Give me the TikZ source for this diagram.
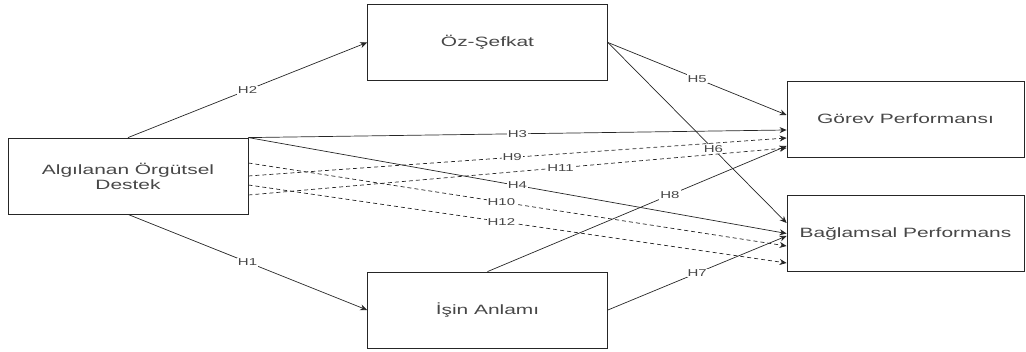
\documentclass[tikz,border=0pt]{standalone}
\usepackage{fontspec}
\setmainfont{Liberation Sans}
\usepackage{graphicx}
\usetikzlibrary{arrows.meta}

% the reference is stretched sideways, so the text is too
\newcommand{\wtext}[1]{\scalebox{1.55}[1]{#1}}
\newcommand{\wlab}[1]{\scalebox{1.5}[1]{#1}}

\tikzset{
  block/.style={draw=black!85, line width=0.8pt, minimum width=240pt, minimum height=76pt,
    inner sep=0pt, align=center, text=black!72, font=\fontsize{13.5}{15}\selectfont},
  link/.style={draw=black!85, line width=0.7pt, -{Stealth[length=7pt,width=6pt]}},
  dlink/.style={link, dash pattern=on 4pt off 3pt},
  hlab/.style={fill=white, inner sep=1pt, text=black!72, font=\fontsize{10}{12}\selectfont},
}

\begin{document}
\begin{tikzpicture}[x=1pt,y=1pt]
    \useasboundingbox (0,0) rectangle (1026,352);
    % boxes
    \node[block] (destek) at (128,176) {\wtext{Algılanan Örgütsel}\\\wtext{Destek}};
    \node[block] (oz) at (487.5,309.5) {\wtext{Öz-Şefkat}};
    \node[block] (anlam) at (487.5,42) {\wtext{İşin Anlamı}};
    \node[block, minimum width=237pt] (gorev) at (905.5,233) {\wtext{Görev Performansı}};
    \node[block, minimum width=237pt] (baglam) at (905.5,118.5) {\wtext{Bağlamsal Performans}};
    % direct paths
    \draw[link] (destek.north) -- (oz.west) node[hlab, midway] {\wlab{H2}};
    \draw[link] (destek.south) -- (anlam.west) node[hlab, midway] {\wlab{H1}};
    \draw[link] (destek.north east) -- ([yshift=-11pt]gorev.west) node[hlab, midway] {\wlab{H3}};
    \draw[link] (destek.north east) -- (baglam.west) node[hlab, midway] {\wlab{H4}};
    \draw[link] (oz.east) -- ([yshift=4pt]gorev.west) node[hlab, midway] {\wlab{H5}};
    \draw[link] (oz.east) -- ([yshift=10.5pt]baglam.west) node[hlab, pos=0.59] {\wlab{H6}};
    \draw[link] (anlam.east) -- ([yshift=-2.5pt]baglam.west) node[hlab, midway] {\wlab{H7}};
    \draw[link] (anlam.north) -- ([yshift=-27pt]gorev.west) node[hlab, pos=0.61] {\wlab{H8}};
    % mediated paths
    \draw[dlink] (destek.east) -- ([yshift=-19pt]gorev.west) node[hlab, pos=0.49] {\wlab{H9}};
    \draw[dlink] ([yshift=13pt]destek.east) -- ([yshift=-12.5pt]baglam.west) node[hlab, pos=0.47] {\wlab{H10}};
    \draw[dlink] ([yshift=-19pt]destek.east) -- ([yshift=-29pt]gorev.west) node[hlab, pos=0.58] {\wlab{H11}};
    \draw[dlink] ([yshift=-9pt]destek.east) -- ([yshift=-29.5pt]baglam.west) node[hlab, pos=0.47] {\wlab{H12}};
\end{tikzpicture}
\end{document}
